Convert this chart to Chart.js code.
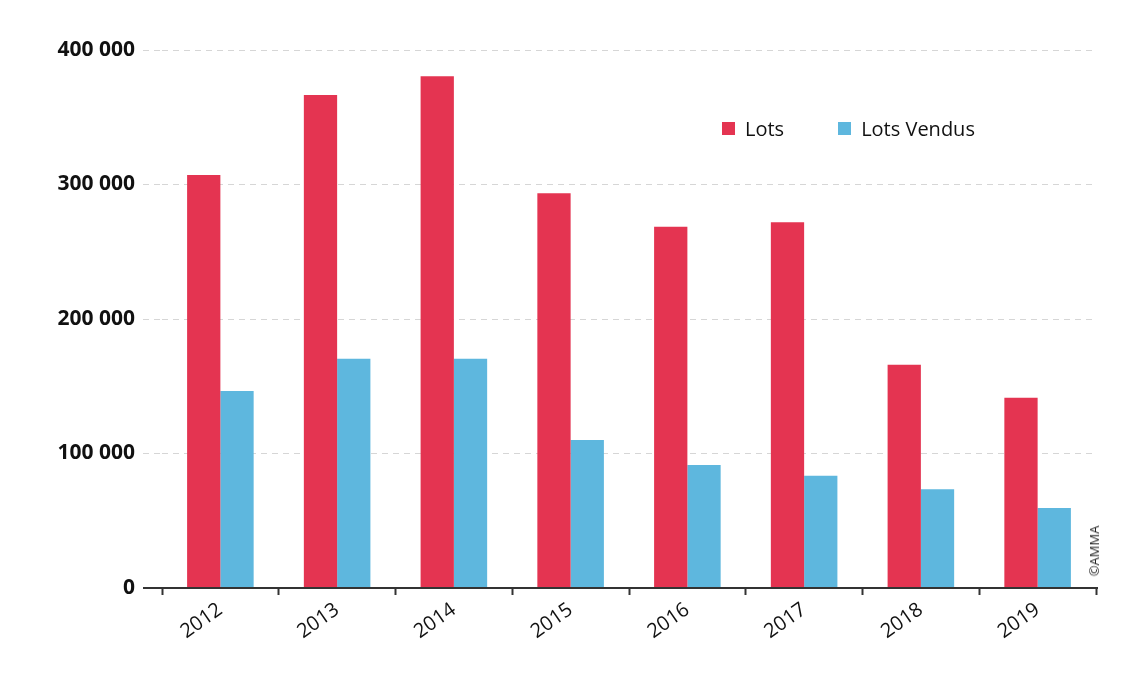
<!DOCTYPE html>
<html>
<head>
<meta charset="utf-8">
<script src="https://cdn.jsdelivr.net/npm/chart.js@4/dist/chart.umd.min.js"></script>
<style>
  html, body { margin: 0; padding: 0; background: #fff; }
  #wrap { position: relative; width: 1140px; height: 676px; font-family: 'Open Sans', sans-serif; }
  #legend { position: absolute; left: 722px; top: 115px; display: flex; gap: 0; }
  .lg-item { display: flex; align-items: center; font-size: 20px; color: #111; }
  .lg-box { width: 13px; height: 13px; margin-right: 10px; }
  #credit { position: absolute; left: 1094px; top: 551px; font-size: 13px; color: #222;
    transform: translate(-50%, -50%) rotate(-90deg); white-space: nowrap; }
</style>
</head>
<body>
<div id="wrap">
  <canvas id="chart" width="1140" height="676"></canvas>
  <div id="legend"></div>
  <div id="credit">©AMMA</div>
</div>
<script>
const years = ['2012', '2013', '2014', '2015', '2016', '2017', '2018', '2019'];
const lots = [307000, 366500, 380500, 293500, 268500, 272000, 166000, 141500];
const lotsVendus = [146500, 170500, 170500, 110000, 91500, 83500, 73500, 59500];
const yTicks = [0, 100000, 200000, 300000, 400000];

const RED = '#e43451';
const BLUE = '#5eb7de';

function fmt(v) {
  return String(v).replace(/\B(?=(\d{3})+(?!\d))/g, ' ');
}

// ligne de base prolongée à gauche comme sur l'original
const baseline = {
  id: 'baseline',
  afterDatasetsDraw(chart) {
    const { ctx, chartArea } = chart;
    ctx.save();
    ctx.strokeStyle = '#333';
    ctx.lineWidth = 2;
    ctx.beginPath();
    ctx.moveTo(chartArea.left - 19, chartArea.bottom);
    ctx.lineTo(chartArea.right + 2, chartArea.bottom);
    ctx.stroke();
    ctx.restore();
  },
};

const chart = new Chart(document.getElementById('chart').getContext('2d'), {
  type: 'bar',
  data: {
    labels: years,
    datasets: [
      { label: 'Lots', data: lots, backgroundColor: RED },
      { label: 'Lots Vendus', data: lotsVendus, backgroundColor: BLUE },
    ],
  },
  options: {
    responsive: false,
    animation: false,
    layout: { padding: { top: 50, right: 44, bottom: 0, left: 0 } },
    datasets: { bar: { barPercentage: 1, categoryPercentage: 0.57 } },
    plugins: {
      legend: { display: false },
      tooltip: { enabled: false },
    },
    scales: {
      x: {
        offset: true,
        grid: { offset: true, drawOnChartArea: false, tickLength: 7, tickColor: '#333', tickWidth: 2 },
        border: { display: false },
        ticks: {
          minRotation: 35, maxRotation: 35, padding: 3,
          color: '#111', font: { family: 'Open Sans', size: 20 },
        },
        afterFit: s => { s.height = 88; },
      },
      y: {
        min: 0, max: 400000,
        afterBuildTicks: s => { s.ticks = yTicks.map(v => ({ value: v })); },
        grid: { color: '#d6d6d6', tickLength: 19, tickColor: '#d6d6d6', tickBorderDash: [6, 5] },
        border: { display: false, dash: [6, 5] },
        ticks: {
          padding: 8, color: '#111',
          font: { family: 'Open Sans', size: 21, weight: 'bold' },
          callback: v => fmt(v),
        },
        afterFit: s => { s.width = 162; },
      },
    },
  },
  plugins: [baseline],
});

document.getElementById('legend').innerHTML = chart.data.datasets.map((d, i) =>
  `<div class="lg-item" style="margin-right:${i === 0 ? 54 : 0}px"><span class="lg-box" style="background:${d.backgroundColor}"></span>${d.label}</div>`
).join('');
</script>
</body>
</html>
